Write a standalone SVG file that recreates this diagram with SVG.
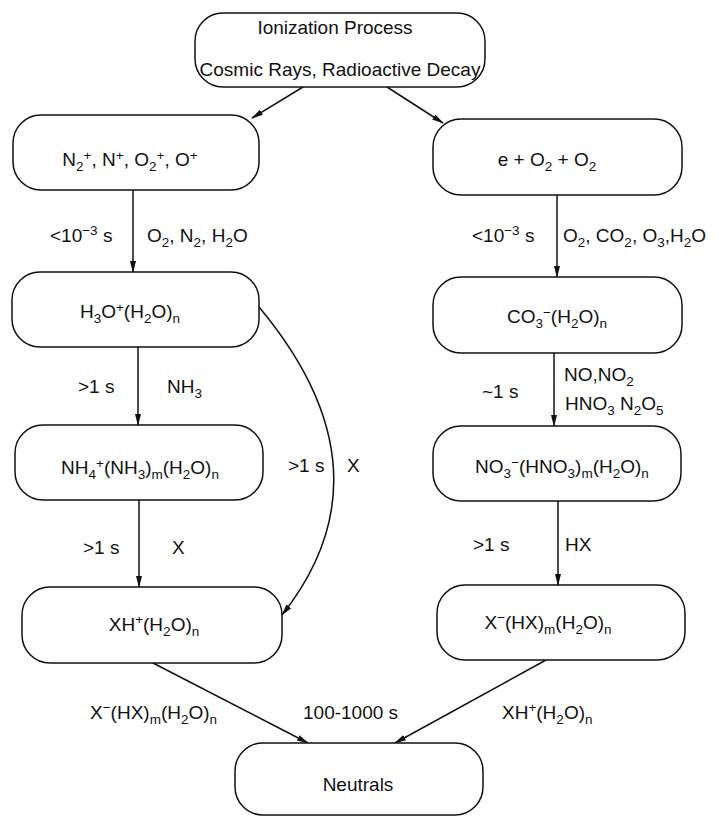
<svg xmlns="http://www.w3.org/2000/svg" width="719" height="817" viewBox="0 0 719 817">
<style>
text{font-family:"Liberation Sans",Arial,sans-serif;font-size:19px;fill:#111}
.c{text-anchor:middle}
.s{font-size:13.5px}
.box{fill:#fff;stroke:#111;stroke-width:1.5}
.ln{fill:none;stroke:#111;stroke-width:1.5}
</style>
<defs>
<marker id="ah" markerWidth="12" markerHeight="8" refX="11" refY="4" orient="auto" markerUnits="userSpaceOnUse"><path d="M0,1 L12,4 L0,7 z" fill="#111"/></marker>
</defs>
<rect width="719" height="817" fill="#fff"/>
<g id="connectors">
<path class="ln" d="M303,87 L252,118" marker-end="url(#ah)"/>
<path class="ln" d="M387,87 L443,123" marker-end="url(#ah)"/>
<path class="ln" d="M133,190 L133,272" marker-end="url(#ah)"/>
<path class="ln" d="M557,195 L557,277" marker-end="url(#ah)"/>
<path class="ln" d="M138,347 L138,425" marker-end="url(#ah)"/>
<path class="ln" d="M554,353 L554,426" marker-end="url(#ah)"/>
<path class="ln" d="M139,500 L139,587" marker-end="url(#ah)"/>
<path class="ln" d="M558,501 L558,585" marker-end="url(#ah)"/>
<path class="ln" d="M259,307 Q396,471 282,615" marker-end="url(#ah)"/>
<path class="ln" d="M153,663 L308,743" marker-end="url(#ah)"/>
<path class="ln" d="M546,660 L395,743" marker-end="url(#ah)"/>
</g>
<g id="edge-labels">
<text x="50" y="242">&lt;10<tspan class="s" dy="-7">−3</tspan><tspan dy="7"> s</tspan></text>
<text x="147" y="242">O<tspan class="s" dy="5">2</tspan><tspan dy="-5">, N</tspan><tspan class="s" dy="5">2</tspan><tspan dy="-5">, H</tspan><tspan class="s" dy="5">2</tspan><tspan dy="-5">O</tspan></text>
<text x="472" y="242">&lt;10<tspan class="s" dy="-7">−3</tspan><tspan dy="7"> s</tspan></text>
<text x="563" y="242">O<tspan class="s" dy="5">2</tspan><tspan dy="-5">, CO</tspan><tspan class="s" dy="5">2</tspan><tspan dy="-5">, O</tspan><tspan class="s" dy="5">3</tspan><tspan dy="-5">,H</tspan><tspan class="s" dy="5">2</tspan><tspan dy="-5">O</tspan></text>
<text x="78" y="393">&gt;1 s</text>
<text x="167" y="393">NH<tspan class="s" dy="5">3</tspan></text>
<text x="482" y="398">~1 s</text>
<text x="564" y="381">NO,NO<tspan class="s" dy="5">2</tspan></text>
<text x="565" y="410">HNO<tspan class="s" dy="5">3</tspan><tspan dy="-5"> N</tspan><tspan class="s" dy="5">2</tspan><tspan dy="-5">O</tspan><tspan class="s" dy="5">5</tspan></text>
<text x="288" y="472">&gt;1 s</text>
<text x="347" y="472">X</text>
<text x="83" y="554">&gt;1 s</text>
<text x="172" y="554">X</text>
<text x="473" y="551">&gt;1 s</text>
<text x="565" y="551">HX</text>
<text x="90" y="719">X<tspan class="s" dy="-7">−</tspan><tspan dy="7">(HX)</tspan><tspan class="s" dy="5">m</tspan><tspan dy="-5">(H</tspan><tspan class="s" dy="5">2</tspan><tspan dy="-5">O)</tspan><tspan class="s" dy="5">n</tspan></text>
<text x="303" y="719">100-1000 s</text>
<text x="502" y="719">XH<tspan class="s" dy="-7">+</tspan><tspan dy="7">(H</tspan><tspan class="s" dy="5">2</tspan><tspan dy="-5">O)</tspan><tspan class="s" dy="5">n</tspan></text>
</g>
<g id="ionization">
<rect class="box" x="195" y="13" width="290" height="74" rx="28"/>
<text class="c" x="335" y="34">Ionization Process</text>
<text class="c" x="340" y="76">Cosmic Rays, Radioactive Decay</text>
</g>
<g id="primary-positive">
<rect class="box" x="13" y="115" width="246" height="75" rx="28"/>
<text class="c" x="130" y="166">N<tspan class="s" dy="5">2</tspan><tspan class="s" dy="-11">+</tspan><tspan dy="6">, N</tspan><tspan class="s" dy="-6">+</tspan><tspan dy="6">, O</tspan><tspan class="s" dy="5">2</tspan><tspan class="s" dy="-11">+</tspan><tspan dy="6">, O</tspan><tspan class="s" dy="-6">+</tspan></text>
</g>
<g id="electron-attachment">
<rect class="box" x="433" y="119" width="249" height="76" rx="28"/>
<text class="c" x="547" y="166">e + O<tspan class="s" dy="5">2</tspan><tspan dy="-5"> + O</tspan><tspan class="s" dy="5">2</tspan></text>
</g>
<g id="hydronium">
<rect class="box" x="12" y="272" width="247" height="75" rx="28"/>
<text class="c" x="130" y="318">H<tspan class="s" dy="5">3</tspan><tspan dy="-5">O</tspan><tspan class="s" dy="-6">+</tspan><tspan dy="6">(H</tspan><tspan class="s" dy="5">2</tspan><tspan dy="-5">O)</tspan><tspan class="s" dy="5">n</tspan></text>
</g>
<g id="carbonate">
<rect class="box" x="433" y="277" width="249" height="76" rx="28"/>
<text class="c" x="557" y="323">CO<tspan class="s" dy="5">3</tspan><tspan class="s" dy="-11">−</tspan><tspan dy="6">(H</tspan><tspan class="s" dy="5">2</tspan><tspan dy="-5">O)</tspan><tspan class="s" dy="5">n</tspan></text>
</g>
<g id="ammonium">
<rect class="box" x="15" y="425" width="248" height="75" rx="28"/>
<text class="c" x="140" y="474">NH<tspan class="s" dy="5">4</tspan><tspan class="s" dy="-11">+</tspan><tspan dy="6">(NH</tspan><tspan class="s" dy="5">3</tspan><tspan dy="-5">)</tspan><tspan class="s" dy="5">m</tspan><tspan dy="-5">(H</tspan><tspan class="s" dy="5">2</tspan><tspan dy="-5">O)</tspan><tspan class="s" dy="5">n</tspan></text>
</g>
<g id="nitrate">
<rect class="box" x="433" y="426" width="248" height="75" rx="28"/>
<text class="c" x="562" y="473">NO<tspan class="s" dy="5">3</tspan><tspan class="s" dy="-11">−</tspan><tspan dy="6">(HNO</tspan><tspan class="s" dy="5">3</tspan><tspan dy="-5">)</tspan><tspan class="s" dy="5">m</tspan><tspan dy="-5">(H</tspan><tspan class="s" dy="5">2</tspan><tspan dy="-5">O)</tspan><tspan class="s" dy="5">n</tspan></text>
</g>
<g id="protonated-x">
<rect class="box" x="22" y="587" width="260" height="76" rx="28"/>
<text class="c" x="154" y="631">XH<tspan class="s" dy="-7">+</tspan><tspan dy="7">(H</tspan><tspan class="s" dy="5">2</tspan><tspan dy="-5">O)</tspan><tspan class="s" dy="5">n</tspan></text>
</g>
<g id="x-anion">
<rect class="box" x="437" y="585" width="248" height="75" rx="28"/>
<text class="c" x="548" y="629">X<tspan class="s" dy="-7">−</tspan><tspan dy="7">(HX)</tspan><tspan class="s" dy="5">m</tspan><tspan dy="-5">(H</tspan><tspan class="s" dy="5">2</tspan><tspan dy="-5">O)</tspan><tspan class="s" dy="5">n</tspan></text>
</g>
<g id="neutrals">
<rect class="box" x="235" y="743" width="248" height="72" rx="28"/>
<text class="c" x="358" y="791">Neutrals</text>
</g>
</svg>
